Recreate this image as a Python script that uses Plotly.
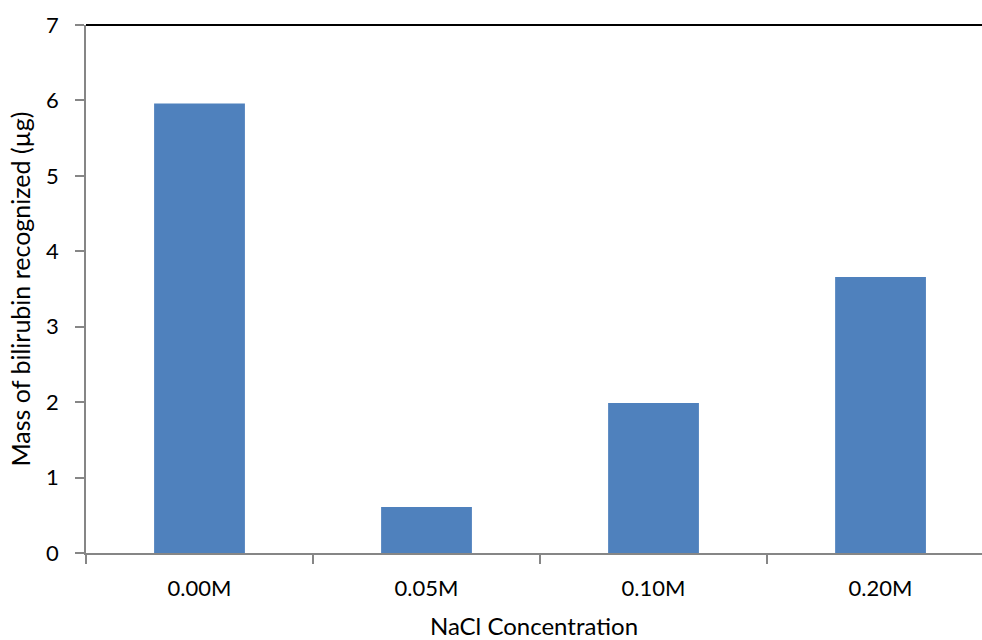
import plotly.graph_objects as go

categories = ["0.00M", "0.05M", "0.10M", "0.20M"]
values = [5.96, 0.61, 1.99, 3.66]
y_ticks = [0, 1, 2, 3, 4, 5, 6, 7]

font_family = "Lato, 'Open Sans', sans-serif"

fig = go.Figure(go.Bar(x=categories, y=values, width=0.4,
                       marker=dict(color="#4F81BD", line=dict(width=0))))

fig.update_layout(
    width=982, height=640,
    margin=dict(l=86, r=0, t=25, b=87),
    plot_bgcolor="white", paper_bgcolor="white",
    font=dict(family=font_family, size=22, color="black"),
    showlegend=False,
)
fig.update_xaxes(
    type="category", range=[-0.5, 3.447], automargin=False,
    showline=True, linecolor="#868686", linewidth=1.5,
    ticks="outside", tickson="boundaries", ticklen=9, tickcolor="#868686", tickwidth=1.5,
    showgrid=False, zeroline=False,
    tickfont=dict(size=22), ticklabelstandoff=15,
    title=dict(text="NaCl Concentration", font=dict(size=24), standoff=24),
)
fig.update_yaxes(
    range=[0, 7], tickvals=y_ticks, automargin=False,
    showline=True, linecolor="#868686", linewidth=1.5,
    ticks="outside", ticklen=9, tickcolor="#868686", tickwidth=1.5,
    showgrid=False, zeroline=False,
    tickfont=dict(size=22), ticklabelstandoff=12,
    title=dict(text="Mass of bilirubin recognized (µg)", font=dict(size=25), standoff=8),
)
fig.add_shape(type="line", xref="paper", yref="paper", x0=0, x1=1, y0=1, y1=1,
              line=dict(color="black", width=2))

fig.write_html("out.html", config={"displayModeBar": False},
               post_script="document.body.style.margin='0';document.body.style.overflow='hidden';")
